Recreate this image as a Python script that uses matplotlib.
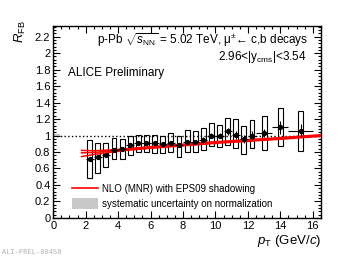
import matplotlib
matplotlib.use("Agg")
import matplotlib.pyplot as plt
from matplotlib.patches import Rectangle, Patch
from matplotlib.lines import Line2D
from matplotlib.ticker import MultipleLocator

plt.rcParams['font.family'] = ['Liberation Sans', 'DejaVu Sans']
plt.rcParams['mathtext.fontset'] = 'custom'
plt.rcParams['mathtext.rm'] = 'Liberation Sans'
plt.rcParams['mathtext.it'] = 'Liberation Sans:italic'

# data: muons from heavy-flavour decays, R_FB vs pT
pt = [2.25, 2.75, 3.25, 3.75, 4.25, 4.75, 5.25, 5.75, 6.25, 6.75, 7.25, 7.75,
      8.25, 8.75, 9.25, 9.75, 10.25, 10.75, 11.25, 11.75, 12.25, 13.0, 14.0, 15.25]
pt_err = [0.25] * 21 + [0.5, 0.5, 0.75]
rfb = [0.71, 0.74, 0.76, 0.83, 0.84, 0.89, 0.91, 0.91, 0.91, 0.90, 0.91, 0.89,
       0.92, 0.92, 0.95, 1.00, 1.00, 1.05, 1.01, 0.96, 1.00, 1.03, 1.10, 1.06]
stat = [0.01, 0.01, 0.01, 0.01, 0.012, 0.012, 0.015, 0.015, 0.015, 0.02, 0.02, 0.02,
        0.025, 0.025, 0.03, 0.03, 0.03, 0.04, 0.05, 0.05, 0.05, 0.05, 0.08, 0.08]
sys_lo = [0.48, 0.55, 0.62, 0.71, 0.71, 0.76, 0.80, 0.80, 0.79, 0.79, 0.80, 0.74,
          0.80, 0.80, 0.82, 0.87, 0.86, 0.89, 0.85, 0.77, 0.85, 0.83, 0.87, 0.81]
sys_hi = [0.94, 0.91, 0.91, 0.97, 0.96, 1.00, 1.01, 1.01, 1.01, 0.99, 1.03, 1.00,
          1.07, 1.06, 1.09, 1.15, 1.13, 1.21, 1.20, 1.12, 1.19, 1.24, 1.33, 1.30]

# NLO (MNR) + EPS09 band
nlo_pt = [1.75, 2.5, 3.5, 4.5, 6, 8, 10, 12, 14, 16.5]
nlo_c = [0.79, 0.795, 0.81, 0.83, 0.855, 0.885, 0.915, 0.94, 0.965, 1.0]
nlo_hi = [0.82, 0.815, 0.825, 0.84, 0.865, 0.895, 0.925, 0.95, 0.975, 1.01]
nlo_lo = [0.745, 0.77, 0.795, 0.82, 0.845, 0.875, 0.905, 0.93, 0.955, 0.99]

fig = plt.figure(figsize=(3.57, 2.57), dpi=100)
ax = fig.add_axes([0.149, 0.152, 0.75, 0.747])

ax.axhline(1.0, color='black', ls=':', lw=1.0, zorder=1)
ax.add_patch(Rectangle((0.05, 0.985), 0.4, 0.03, color='#c8c8c8', lw=0, zorder=1))

for yy in (nlo_c, nlo_hi, nlo_lo):
    ax.plot(nlo_pt, yy, color='red', lw=1.1, zorder=3)

box_w = 0.3
for x, lo, hi in zip(pt, sys_lo, sys_hi):
    ax.add_patch(Rectangle((x - box_w / 2, lo), box_w, hi - lo, fill=False,
                           ec='black', lw=0.8, zorder=2))

ax.errorbar(pt, rfb, xerr=pt_err, yerr=stat, fmt='o', ms=2.8, color='black',
            elinewidth=0.8, capsize=0, zorder=4)

ax.set_xlim(0, 16.5)
ax.set_ylim(0, 2.33)
ax.xaxis.set_major_locator(MultipleLocator(2))
ax.xaxis.set_minor_locator(MultipleLocator(0.5))
ax.yaxis.set_minor_locator(MultipleLocator(0.04))
ax.set_yticks([0, 0.2, 0.4, 0.6, 0.8, 1, 1.2, 1.4, 1.6, 1.8, 2, 2.2])
ax.set_yticklabels(['0', '0.2', '0.4', '0.6', '0.8', '1', '1.2', '1.4', '1.6', '1.8', '2', '2.2'])
ax.tick_params(which='both', direction='in', top=True, right=True, labelsize=8, pad=2)
ax.tick_params(which='major', length=5, width=0.8)
ax.tick_params(which='minor', length=2.5, width=0.8)
for s in ax.spines.values():
    s.set_linewidth(1.0)

handles = [Line2D([], [], color='red', lw=1.2),
           Patch(facecolor='#c8c8c8', edgecolor='none')]
ax.legend(handles, ['NLO (MNR) with EPS09 shadowing',
                    'systematic uncertainty on normalization'],
          loc='lower left', bbox_to_anchor=(0.055, 0.025), frameon=False,
          fontsize=7, handlelength=2.7, handleheight=1.4, labelspacing=0.35,
          handletextpad=0.4, borderaxespad=0)

fig.text(97 / 357, 1 - 40 / 257, r'p-Pb $\sqrt{s_{\rm NN}}$ = 5.02 TeV, μ$^{\pm}$← c,b decays',
         fontsize=8.5, ha='left', va='center')
fig.text(307 / 357, 1 - 57 / 257, r'2.96<|y$_{\rm cms}$|<3.54', fontsize=8.5,
         ha='right', va='center')
fig.text(68 / 357, 1 - 73 / 257, 'ALICE Preliminary', fontsize=8.5, ha='left', va='center')
fig.text(20 / 357, 1 - 32 / 257, r'$R_{\rm FB}$', fontsize=9.5, rotation=90,
         ha='center', va='center')
fig.text(321 / 357, 1 - 241 / 257, r'$p_{\rm T}$ (GeV/$c$)', fontsize=9.5,
         ha='right', va='center')
fig.text(2 / 357, 1 - 252 / 257, 'ALI-PREL-80458', fontsize=5, color='#b0b0b0',
         family='Liberation Mono', ha='left', va='center')

fig.savefig('out.png', dpi=100)
